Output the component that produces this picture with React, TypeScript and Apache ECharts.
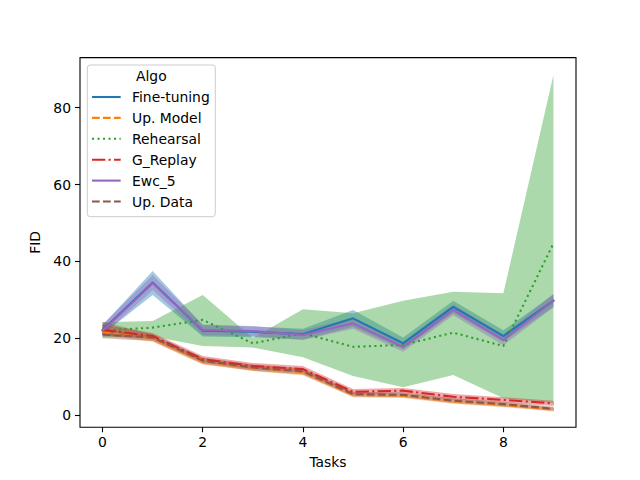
import React, { useEffect, useRef } from "react";
import * as echarts from "echarts";

const tasks = [0, 1, 2, 3, 4, 5, 6, 7, 8, 9];
const xTicks = [0, 2, 4, 6, 8];
const yTicks = [0, 20, 40, 60, 80];

const fineTuning = [22.2, 34.5, 22.0, 21.7, 21.1, 25.2, 18.7, 28.2, 20.6, 29.8];
const fineTuningLo = [21.0, 31.3, 20.5, 20.3, 19.7, 23.0, 17.2, 26.6, 19.1, 28.2];
const fineTuningHi = [23.4, 37.5, 23.5, 23.1, 22.5, 27.4, 20.2, 29.8, 22.1, 31.4];

const upModel = [21.6, 19.9, 14.0, 12.3, 11.2, 5.3, 5.1, 3.6, 2.7, 1.5];
const upModelLo = [20.8, 19.1, 13.2, 11.5, 10.4, 4.7, 4.5, 3.0, 2.1, 1.0];
const upModelHi = [22.4, 20.7, 14.8, 13.1, 12.0, 5.9, 5.7, 4.2, 3.3, 2.0];

const rehearsal = [22.0, 22.8, 24.8, 18.7, 21.3, 17.8, 18.3, 21.5, 18.0, 44.7];
const rehearsalLo = [20.3, 20.5, 18.0, 17.6, 15.1, 10.2, 7.3, 10.5, 4.4, 3.2];
const rehearsalHi = [24.2, 24.5, 31.3, 20.1, 27.6, 26.5, 29.8, 32.1, 31.7, 88.5];

const gReplay = [22.2, 20.6, 14.6, 12.8, 12.0, 6.1, 6.4, 4.8, 4.0, 3.1];
const gReplayLo = [20.8, 19.8, 13.8, 12.0, 11.2, 5.4, 5.7, 4.1, 3.3, 2.4];
const gReplayHi = [23.6, 21.4, 15.4, 13.6, 12.8, 6.8, 7.1, 5.5, 4.7, 3.8];

const ewc5 = [22.0, 34.3, 22.2, 21.9, 20.9, 23.9, 17.8, 27.4, 19.6, 29.8];
const ewc5Lo = [20.8, 32.5, 20.8, 20.6, 19.6, 22.5, 16.5, 26.0, 18.2, 28.0];
const ewc5Hi = [23.6, 36.5, 23.6, 23.2, 22.2, 25.3, 19.2, 28.8, 21.0, 31.6];

const upData = [21.0, 20.2, 14.2, 12.4, 11.4, 5.5, 5.3, 3.8, 2.9, 1.7];
const upDataLo = [20.0, 19.3, 13.4, 11.6, 10.6, 4.9, 4.7, 3.2, 2.3, 1.2];
const upDataHi = [24.3, 21.1, 15.0, 13.2, 12.2, 6.1, 5.9, 4.4, 3.5, 2.2];

const DASHED = [7.7, 3.3];
const DOTTED = [2.1, 3.4];
const DASHDOT = [13.3, 3.3, 2.1, 3.3];

const algos = [
  { name: "Fine-tuning", color: "#1f77b4", dash: null as number[] | null, mean: fineTuning, lo: fineTuningLo, hi: fineTuningHi },
  { name: "Up. Model", color: "#ff7f0e", dash: DASHED, mean: upModel, lo: upModelLo, hi: upModelHi },
  { name: "Rehearsal", color: "#2ca02c", dash: DOTTED, mean: rehearsal, lo: rehearsalLo, hi: rehearsalHi },
  { name: "G_Replay", color: "#d62728", dash: DASHDOT, mean: gReplay, lo: gReplayLo, hi: gReplayHi },
  { name: "Ewc_5", color: "#9467bd", dash: null as number[] | null, mean: ewc5, lo: ewc5Lo, hi: ewc5Hi },
  { name: "Up. Data", color: "#8c564b", dash: DASHED, mean: upData, lo: upDataLo, hi: upDataHi },
];

const FONT = "DejaVu Sans";
const FS = 13.9;
const LW = 2.08;

export default function App() {
  const ref = useRef<HTMLDivElement>(null);
  useEffect(() => {
    if (!ref.current) return;
    const chart = echarts.init(ref.current, null, { renderer: "svg" });

    const bandSeries = algos.map((a) => ({
      type: "custom",
      name: a.name + " band",
      z: 1,
      silent: true,
      data: tasks.map((t, i) => [t, a.lo[i], a.hi[i]]),
      encode: { x: 0, y: [1, 2] },
      renderItem: (params: any, api: any) => {
        if (params.dataIndex !== 0) return null;
        const pts: number[][] = [];
        for (let i = 0; i < tasks.length; i++) pts.push(api.coord([tasks[i], a.hi[i]]));
        for (let i = tasks.length - 1; i >= 0; i--) pts.push(api.coord([tasks[i], a.lo[i]]));
        return {
          type: "polygon",
          shape: { points: pts },
          style: { fill: a.color, opacity: 0.4, stroke: "none" },
          silent: true,
        };
      },
    }));

    const lineSeries = algos.map((a) => ({
      type: "line",
      name: a.name,
      z: 2,
      showSymbol: false,
      symbol: "none",
      data: tasks.map((t, i) => [t, a.mean[i]]),
      lineStyle: {
        color: a.color,
        width: LW,
        type: a.dash ? a.dash : "solid",
        cap: a.dash ? "butt" : "square",
        join: "round",
      },
    }));

    const lx = 87.3, ly = 65, lw = 128, lh = 151.7;
    const legendEls: any[] = [
      {
        type: "rect",
        shape: { x: lx, y: ly, width: lw, height: lh, r: 3 },
        style: { fill: "rgba(255,255,255,0.8)", stroke: "#cccccc", lineWidth: 1 },
        z: 100,
      },
      {
        type: "text",
        style: { text: "Algo", x: 151.3, y: 76, fill: "#000", fontSize: FS, fontFamily: FONT, align: "center", verticalAlign: "middle" },
        z: 101,
      },
    ];
    algos.forEach((a, i) => {
      const y = 97 + i * 20.9;
      legendEls.push({
        type: "line",
        shape: { x1: 92, y1: y, x2: 120.7, y2: y },
        style: { stroke: a.color, lineWidth: LW, lineDash: a.dash ? a.dash : null, lineCap: "butt" },
        z: 101,
      });
      legendEls.push({
        type: "text",
        style: { text: a.name, x: 132, y, fill: "#000", fontSize: FS, fontFamily: FONT, align: "left", verticalAlign: "middle" },
        z: 101,
      });
    });

    chart.setOption({
      animation: false,
      backgroundColor: "#fff",
      textStyle: { fontFamily: FONT },
      grid: { left: 80, right: 64, top: 57.6, bottom: 52.8, show: true, borderColor: "#000", borderWidth: 1.1, backgroundColor: "transparent", containLabel: false },
      xAxis: {
        type: "value",
        min: -0.45,
        max: 9.45,
        axisLine: { show: false, onZero: false },
        axisTick: { show: true, customValues: xTicks, length: 5, lineStyle: { color: "#000", width: 1.1 } },
        axisLabel: { customValues: xTicks, color: "#000", fontSize: FS, fontFamily: FONT, margin: 8 },
        splitLine: { show: false },
        name: "Tasks",
        nameLocation: "middle",
        nameGap: 28,
        nameTextStyle: { color: "#000", fontSize: FS, fontFamily: FONT, verticalAlign: "top" },
      },
      yAxis: {
        type: "value",
        min: -3.1,
        max: 93.0,
        axisLine: { show: false, onZero: false },
        axisTick: { show: true, customValues: yTicks, length: 5, lineStyle: { color: "#000", width: 1.1 } },
        axisLabel: { customValues: yTicks, color: "#000", fontSize: FS, fontFamily: FONT, margin: 9 },
        splitLine: { show: false },
        name: "FID",
        nameLocation: "middle",
        nameGap: 33,
        nameRotate: 90,
        nameTextStyle: { color: "#000", fontSize: FS, fontFamily: FONT },
      },
      graphic: { elements: legendEls },
      series: [...bandSeries, ...lineSeries],
    });

    return () => chart.dispose();
  }, []);
  return <div ref={ref} style={{ position: "absolute", left: 0, top: 0, width: 640, height: 480 }} />;
}
